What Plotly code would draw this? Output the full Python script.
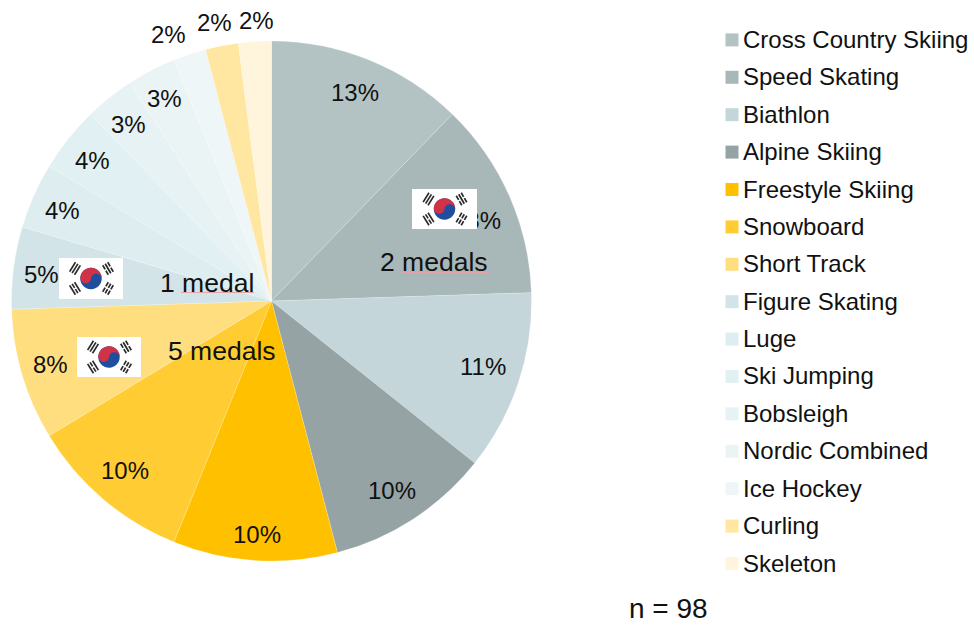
import numpy as np
import plotly.graph_objects as go

W, H = 974, 625
FONT = "Liberation Sans"
INK = "#111111"

sports = ["Cross Country Skiing", "Speed Skating", "Biathlon", "Alpine Skiing",
          "Freestyle Skiing", "Snowboard", "Short Track", "Figure Skating", "Luge",
          "Ski Jumping", "Bobsleigh", "Nordic Combined", "Ice Hockey", "Curling", "Skeleton"]
counts = [12, 12, 11, 10, 10, 10, 8, 5, 4, 4, 3, 3, 2, 2, 2]
pct_labels = ["13%", "13%", "11%", "10%", "10%", "10%", "8%", "5%", "4%", "4%", "3%", "3%", "2%", "2%", "2%"]
colors = ["#B3C3C4", "#A8B7B8", "#C4D6D9", "#95A3A4", "#FFC000", "#FFCD33", "#FFDE80",
          "#D2E4E7", "#DEEEF0", "#E1F0F2", "#E6F2F3", "#EAF4F5", "#EEF6F8", "#FFE6A1", "#FFF5DD"]

pct_pos = [(355, 92), (477, 218), (483, 366), (392, 490), (257, 534), (125, 470), (50, 364),
           (41, 274), (62, 210), (92, 160), (128, 124), (164, 98), (168, 34), (214, 22), (256, 21)]
medal_notes = [("2 medals", 434, 262), ("1 medal", 207, 283), ("5 medals", 222, 351)]
flag_boxes = [(412, 189, 477, 229), (59, 258, 123, 299), (77, 337, 141, 377)]
legend_y0, legend_step = 39.4, 37.4


def px(x):
    return x / W


def py(y):
    return 1 - y / H


def poly(points):
    return "M " + " L ".join(f"{px(x):.5f} {py(y):.5f}" for x, y in points) + " Z"


def flag_shapes(x0, y0, x1, y1):
    out = [dict(type="rect", xref="paper", yref="paper", x0=px(x0), x1=px(x1), y0=py(y1), y1=py(y0),
                fillcolor="white", line_width=0)]
    cx, cy = (x0 + x1) / 2, (y0 + y1) / 2
    r = 10.7
    t = np.radians(6)
    ax = np.array([np.cos(t), np.sin(t)])   # axis: left to right, slightly falling
    nv = np.array([np.sin(t), -np.cos(t)])  # normal: upwards

    def pt(u, v):
        return (cx + u * ax[0] + v * nv[0], cy + u * ax[1] + v * nv[1])

    th = np.linspace(0, 2 * np.pi, 60)
    blue = [pt(r * np.cos(a), r * np.sin(a)) for a in th]
    out.append(dict(type="path", xref="paper", yref="paper", path=poly(blue), fillcolor="#1F4E9E", line_width=0))
    red = [pt(r * np.cos(a), r * np.sin(a)) for a in np.linspace(np.pi, 0, 40)]
    red += [pt(r / 2 + r / 2 * np.cos(a), r / 2 * np.sin(a)) for a in np.linspace(0, np.pi, 20)]
    red += [pt(-r / 2 + r / 2 * np.cos(a), -r / 2 * np.sin(a)) for a in np.linspace(0, np.pi, 20)]
    out.append(dict(type="path", xref="paper", yref="paper", path=poly(red), fillcolor="#CF3345", line_width=0))

    # (direction to corner, pattern of the 3 bars; True = broken)
    trigrams = [((-16, -10), (False, False, False)), ((17, -10), (True, False, True)),
                ((-16, 10), (False, True, False)), ((17, 10), (True, True, True))]
    for (dx, dy), pattern in trigrams:
        d = np.array([dx, dy], float)
        dist = np.hypot(dx, dy)
        rad = d / dist
        tan = np.array([-rad[1], rad[0]])
        for off, broken in zip((-2.9, 0, 2.9), pattern):
            c = np.array([cx + dx, cy + dy]) + rad * off
            spans = [(-5.5, -0.7), (0.7, 5.5)] if broken else [(-5.5, 5.5)]
            for a, b in spans:
                q = [c + tan * a - rad * 0.85, c + tan * b - rad * 0.85,
                     c + tan * b + rad * 0.85, c + tan * a + rad * 0.85]
                out.append(dict(type="path", xref="paper", yref="paper", path=poly(q),
                                fillcolor="#2A2A2A", line_width=0))
    return out


fig = go.Figure(go.Pie(
    labels=sports, values=counts, sort=False, direction="clockwise", rotation=0,
    marker=dict(colors=colors, line=dict(color="rgba(255,255,255,0.3)", width=0.6)),
    textinfo="none", hoverinfo="label+percent", showlegend=False,
    domain=dict(x=[px(11.5), px(531.5)], y=[py(561), py(41)]),
))

annotations = []
shapes = []


def add_text(text, x, y, size, anchor="center", height=None):
    annotations.append(dict(text=text, xref="paper", yref="paper", x=px(x), y=py(y),
                            xanchor=anchor, yanchor="middle", showarrow=False, height=height,
                            font=dict(family=FONT, size=size, color=INK)))


for i, (lab, (x, y)) in enumerate(zip(pct_labels, pct_pos)):
    if i == 1:
        # this label sits partly underneath the flag, so it is carried by a shape drawn before the flag
        shapes.append(dict(type="rect", xref="paper", yref="paper", x0=px(x - 30), x1=px(x + 30),
                           y0=py(y + 15), y1=py(y - 15), line_width=0, fillcolor="rgba(0,0,0,0)",
                           label=dict(text=lab, textposition="middle center",
                                      font=dict(family=FONT, size=24, color=INK))))
    else:
        add_text(lab, x, y, 24)

for text, x, y in medal_notes:
    add_text(text, x, y, 26.5)

# spell-check underlines under "medals"/"medal"
for x0, x1, y in [(402, 489, 272.5), (181, 254, 292.5)]:
    shapes.append(dict(type="line", xref="paper", yref="paper", x0=px(x0), x1=px(x1), y0=py(y), y1=py(y),
                       line=dict(color="#E3A3A8", width=1)))

for box in flag_boxes:
    shapes.extend(flag_shapes(*box))

for i, (name, col) in enumerate(zip(sports, colors)):
    yc = legend_y0 + i * legend_step
    shapes.append(dict(type="rect", xref="paper", yref="paper", x0=px(725.5), x1=px(738.5),
                       y0=py(yc + 7), y1=py(yc - 6), fillcolor=col, line_width=0))
    add_text(name, 741, yc, 24, anchor="left")

add_text("n = 98", 668.5, 608, 28)

fig.update_layout(width=W, height=H, margin=dict(l=0, r=0, t=0, b=0), paper_bgcolor="white",
                  plot_bgcolor="white", annotations=annotations, shapes=shapes, showlegend=False)
fig.write_html("out.html", config=dict(displayModeBar=False),
               post_script="document.body.style.margin='0';document.body.style.overflow='hidden';")
